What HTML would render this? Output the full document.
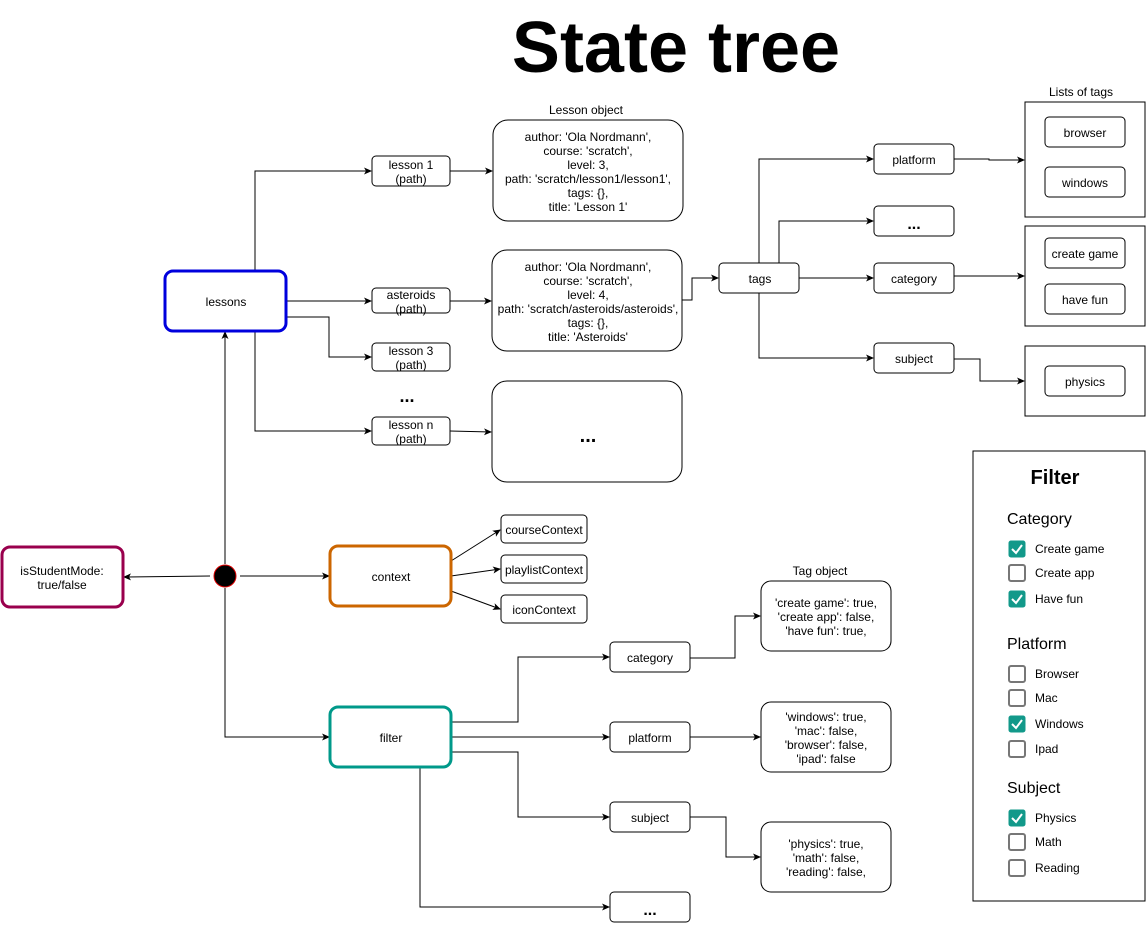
<!DOCTYPE html>
<html><head><meta charset="utf-8"><style>
body{margin:0;background:#fff}
svg{display:block;font-family:"Liberation Sans",sans-serif}
text{font-size:12px;fill:#000}
</style></head><body>
<svg width="1147" height="925" viewBox="0 0 1147 925">
<defs><marker id="a" markerWidth="8" markerHeight="8" refX="7" refY="4" orient="auto" markerUnits="userSpaceOnUse"><path d="M0,0.5 L8,4 L0,7.5 L2,4 Z" fill="#000"/></marker></defs>
<text x="676" y="72" text-anchor="middle" style="font-size:72px;font-weight:bold">State tree</text>
<g fill="none" stroke="#000" stroke-width="1" marker-end="url(#a)">
<path d="M255,271 V171 H371"/>
<path d="M286,301 H371"/>
<path d="M286,317 H329 V357 H371"/>
<path d="M255,331 V431 H371"/>
<path d="M450,171 H492"/>
<path d="M450,301 H491"/>
<path d="M450,431 L491,432"/>
<path d="M682,300 H692 V278 H718"/>
<path d="M759,263 V159 H873"/>
<path d="M779,263 V221 H873"/>
<path d="M799,278 H873"/>
<path d="M759,293 V358 H873"/>
<path d="M954,159 H989 V160 H1024"/>
<path d="M954,276 H1024"/>
<path d="M954,359 H980 V381 H1024"/>
<path d="M225,564 V332"/>
<path d="M210,576 L124,577"/>
<path d="M240,576 H329"/>
<path d="M225,588 V737 H329"/>
<path d="M451,561 L500,530"/>
<path d="M451,576 L500,569"/>
<path d="M451,591 L500,609"/>
<path d="M451,722 H518 V657 H609"/>
<path d="M451,737 H609"/>
<path d="M451,752 H518 V817 H609"/>
<path d="M420,767 V907 H609"/>
<path d="M690,658 H735 V616 H760"/>
<path d="M690,737 H760"/>
<path d="M690,817 H726 V857 H760"/>
</g>
<g fill="#fff" stroke="#000">
<rect x="372" y="156" width="78" height="30" rx="4"/>
<rect x="372" y="288" width="78" height="25" rx="4"/>
<rect x="372" y="343" width="78" height="28" rx="4"/>
<rect x="372" y="417" width="78" height="28" rx="4"/>
<rect x="493" y="120" width="190" height="101" rx="15"/>
<rect x="492" y="250" width="190" height="101" rx="15"/>
<rect x="492" y="381" width="190" height="101" rx="15"/>
<rect x="719" y="263" width="80" height="30" rx="4"/>
<rect x="874" y="144" width="80" height="30" rx="4"/>
<rect x="874" y="206" width="80" height="30" rx="4"/>
<rect x="874" y="263" width="80" height="30" rx="4"/>
<rect x="874" y="343" width="80" height="30" rx="4"/>
<rect x="1025" y="102" width="120" height="115"/>
<rect x="1025" y="226" width="120" height="100"/>
<rect x="1025" y="346" width="120" height="70"/>
<rect x="1045" y="117" width="80" height="30" rx="4"/>
<rect x="1045" y="167" width="80" height="30" rx="4"/>
<rect x="1045" y="238" width="80" height="30" rx="4"/>
<rect x="1045" y="284" width="80" height="30" rx="4"/>
<rect x="1045" y="366" width="80" height="30" rx="4"/>
<rect x="973" y="451" width="172" height="450"/>
<rect x="501" y="515" width="86" height="28" rx="4"/>
<rect x="501" y="555" width="86" height="28" rx="4"/>
<rect x="501" y="595" width="86" height="28" rx="4"/>
<rect x="610" y="642" width="80" height="30" rx="4"/>
<rect x="610" y="722" width="80" height="30" rx="4"/>
<rect x="610" y="802" width="80" height="30" rx="4"/>
<rect x="610" y="892" width="80" height="30" rx="4"/>
<rect x="761" y="581" width="130" height="70" rx="10"/>
<rect x="761" y="702" width="130" height="70" rx="10"/>
<rect x="761" y="822" width="130" height="70" rx="10"/>
</g>
<g fill="#fff" stroke-width="3">
<rect x="165" y="271" width="121" height="60" rx="8" stroke="#0000dd"/>
<rect x="2" y="547" width="121" height="60" rx="8" stroke="#99004d"/>
<rect x="330" y="546" width="121" height="60" rx="8" stroke="#cc6600"/>
<rect x="330" y="707" width="121" height="60" rx="8" stroke="#00998a"/>
</g>
<circle cx="225" cy="576" r="11" fill="#000" stroke="#d00" stroke-width="1"/>
<g text-anchor="middle">
<text x="226" y="306">lessons</text>
<text x="62" y="575">isStudentMode:</text><text x="62" y="589">true/false</text>
<text x="391" y="581">context</text>
<text x="391" y="742">filter</text>
<text x="411" y="169">lesson 1</text><text x="411" y="183">(path)</text>
<text x="411" y="299">asteroids</text><text x="411" y="313">(path)</text>
<text x="411" y="355">lesson 3</text><text x="411" y="369">(path)</text>
<text x="407" y="402" style="font-size:18px;font-weight:bold">...</text>
<text x="411" y="429">lesson n</text><text x="411" y="443">(path)</text>
<text x="586" y="114">Lesson object</text>
<text x="588" y="141">author: 'Ola Nordmann',</text>
<text x="588" y="155">course: 'scratch',</text>
<text x="588" y="169">level: 3,</text>
<text x="588" y="183">path: 'scratch/lesson1/lesson1',</text>
<text x="588" y="197">tags: {},</text>
<text x="588" y="211">title: 'Lesson 1'</text>
<text x="588" y="271">author: 'Ola Nordmann',</text>
<text x="588" y="285">course: 'scratch',</text>
<text x="588" y="299">level: 4,</text>
<text x="588" y="313">path: 'scratch/asteroids/asteroids',</text>
<text x="588" y="327">tags: {},</text>
<text x="588" y="341">title: 'Asteroids'</text>
<text x="588" y="442" style="font-size:20px;font-weight:bold">...</text>
<text x="760" y="283">tags</text>
<text x="914" y="164">platform</text>
<text x="914" y="229" style="font-size:16px;font-weight:bold">...</text>
<text x="914" y="283">category</text>
<text x="914" y="363">subject</text>
<text x="1081" y="96">Lists of tags</text>
<text x="1085" y="137">browser</text>
<text x="1085" y="187">windows</text>
<text x="1085" y="258">create game</text>
<text x="1085" y="304">have fun</text>
<text x="1085" y="386">physics</text>
<text x="544" y="534">courseContext</text>
<text x="544" y="574">playlistContext</text>
<text x="544" y="614">iconContext</text>
<text x="650" y="662">category</text>
<text x="650" y="742">platform</text>
<text x="650" y="822">subject</text>
<text x="650" y="915" style="font-size:16px;font-weight:bold">...</text>
<text x="820" y="575">Tag object</text>
<text x="826" y="607">'create game': true,</text>
<text x="826" y="621">'create app': false,</text>
<text x="826" y="635">'have fun': true,</text>
<text x="826" y="721">'windows': true,</text>
<text x="826" y="735">'mac': false,</text>
<text x="826" y="749">'browser': false,</text>
<text x="826" y="763">'ipad': false</text>
<text x="826" y="848">'physics': true,</text>
<text x="826" y="862">'math': false,</text>
<text x="826" y="876">'reading': false,</text>
<text x="1055" y="484" style="font-size:20px;font-weight:bold">Filter</text>
</g>
<g style="font-size:16px">
<text x="1007" y="524" style="font-size:16px">Category</text>
<text x="1007" y="649" style="font-size:16px">Platform</text>
<text x="1007" y="793" style="font-size:16px">Subject</text>
</g>
<g>
<g transform="translate(1009,541)"><rect width="16" height="16" rx="2" fill="#12998a" stroke="#12998a"/><path d="M3,8 L7,12 L13,4" stroke="#fff" stroke-width="2" fill="none"/></g>
<g transform="translate(1009,565)"><rect width="16" height="16" rx="2" fill="#fff" stroke="#777" stroke-width="2"/></g>
<g transform="translate(1009,591)"><rect width="16" height="16" rx="2" fill="#12998a" stroke="#12998a"/><path d="M3,8 L7,12 L13,4" stroke="#fff" stroke-width="2" fill="none"/></g>
<g transform="translate(1009,666)"><rect width="16" height="16" rx="2" fill="#fff" stroke="#777" stroke-width="2"/></g>
<g transform="translate(1009,690)"><rect width="16" height="16" rx="2" fill="#fff" stroke="#777" stroke-width="2"/></g>
<g transform="translate(1009,716)"><rect width="16" height="16" rx="2" fill="#12998a" stroke="#12998a"/><path d="M3,8 L7,12 L13,4" stroke="#fff" stroke-width="2" fill="none"/></g>
<g transform="translate(1009,741)"><rect width="16" height="16" rx="2" fill="#fff" stroke="#777" stroke-width="2"/></g>
<g transform="translate(1009,810)"><rect width="16" height="16" rx="2" fill="#12998a" stroke="#12998a"/><path d="M3,8 L7,12 L13,4" stroke="#fff" stroke-width="2" fill="none"/></g>
<g transform="translate(1009,834)"><rect width="16" height="16" rx="2" fill="#fff" stroke="#777" stroke-width="2"/></g>
<g transform="translate(1009,860)"><rect width="16" height="16" rx="2" fill="#fff" stroke="#777" stroke-width="2"/></g>
<text x="1035" y="553">Create game</text>
<text x="1035" y="577">Create app</text>
<text x="1035" y="603">Have fun</text>
<text x="1035" y="678">Browser</text>
<text x="1035" y="702">Mac</text>
<text x="1035" y="728">Windows</text>
<text x="1035" y="753">Ipad</text>
<text x="1035" y="822">Physics</text>
<text x="1035" y="846">Math</text>
<text x="1035" y="872">Reading</text>
</g>
</svg>
</body></html>
